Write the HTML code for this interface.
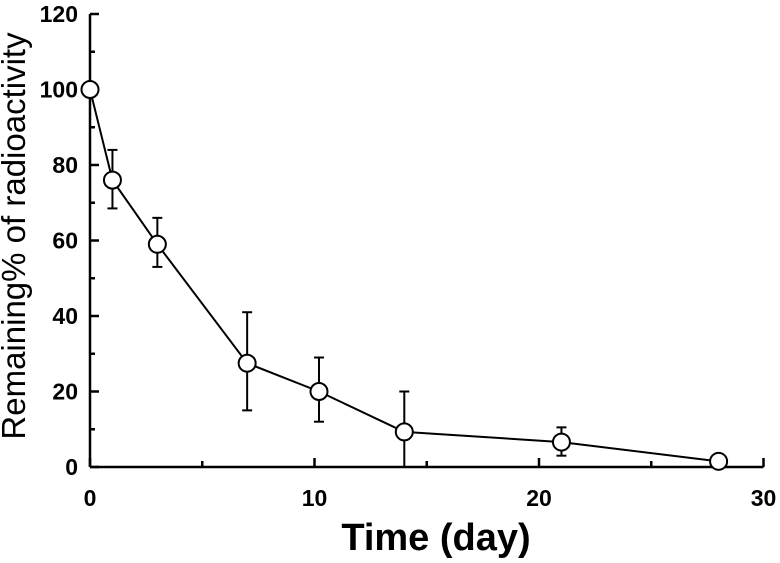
<!DOCTYPE html>
<html><head><meta charset="utf-8"><style>
body{margin:0;background:#fff;}
svg text{font-family:"Liberation Sans",Arial,sans-serif;font-weight:bold;fill:#000;}
</style></head><body>
<svg id="chart" width="780" height="558" xmlns="http://www.w3.org/2000/svg"></svg>
<script>
const days=[0,1,3,7,10.2,14,21,28];
const remaining=[100,76,59,27.5,20,9.3,6.6,1.5];
const errHigh=[100,84,66,41,29,20,10.5,1.5];
const errLow=[100,68.5,53,15,12,0,3,1.5];
const xTicks=[0,10,20,30];
const yTicks=[0,20,40,60,80,100,120];
const NS="http://www.w3.org/2000/svg";
const svg=document.getElementById('chart');
const X=v=>90+v*22.45, Y=v=>467-v*3.775;
function mk(t,a,p){const e=document.createElementNS(NS,t);for(const k in a)e.setAttribute(k,a[k]);(p||svg).appendChild(e);return e;}
const ax=mk('g',{stroke:'#000','stroke-width':2.5,fill:'none'});


mk('line',{x1:X(0),y1:Y(0),x2:X(30),y2:Y(0)},ax);
mk('line',{x1:X(0),y1:Y(0),x2:X(0),y2:Y(120)},ax);
for(let v=0;v<=30;v+=5){const L=v%10===0?9:6;mk('line',{x1:X(v),y1:Y(0),x2:X(v),y2:Y(0)-L},ax);}
for(let v=0;v<=120;v+=10){const L=v%20===0?9:5;mk('line',{x1:X(0),y1:Y(v),x2:X(0)+L,y2:Y(v)},ax);}
xTicks.forEach(v=>{const t=mk('text',{x:X(v),y:506,'text-anchor':'middle','font-size':23});t.textContent=v;

});
yTicks.forEach(v=>{const t=mk('text',{x:78,y:Y(v)+8,'text-anchor':'end','font-size':23});t.textContent=v;

});
const xt=mk('text',{x:436,y:550,'text-anchor':'middle','font-size':38});xt.textContent='Time (day)';


const yt=mk('text',{x:0,y:0,'text-anchor':'middle','font-size':33,transform:'translate(25,236) rotate(-90)'});yt.textContent='Remaining% of radioactivity';
yt.style.fontWeight='normal';


const eb=mk('g',{stroke:'#000','stroke-width':2});


days.forEach((d,i)=>{if(errHigh[i]-errLow[i]<1)return;const x=X(d);
mk('line',{x1:x,y1:Y(errHigh[i]),x2:x,y2:Y(errLow[i])},eb);
mk('line',{x1:x-5,y1:Y(errHigh[i]),x2:x+5,y2:Y(errHigh[i])},eb);
mk('line',{x1:x-5,y1:Y(errLow[i]),x2:x+5,y2:Y(errLow[i])},eb);});
const ln=mk('polyline',{points:days.map((d,i)=>X(d)+','+Y(remaining[i])).join(' '),fill:'none',stroke:'#000','stroke-width':2});


days.forEach((d,i)=>{const c=mk('circle',{cx:X(d),cy:Y(remaining[i]),r:8.5,fill:'#fff',stroke:'#000','stroke-width':2});

});
</script>
</body></html>
